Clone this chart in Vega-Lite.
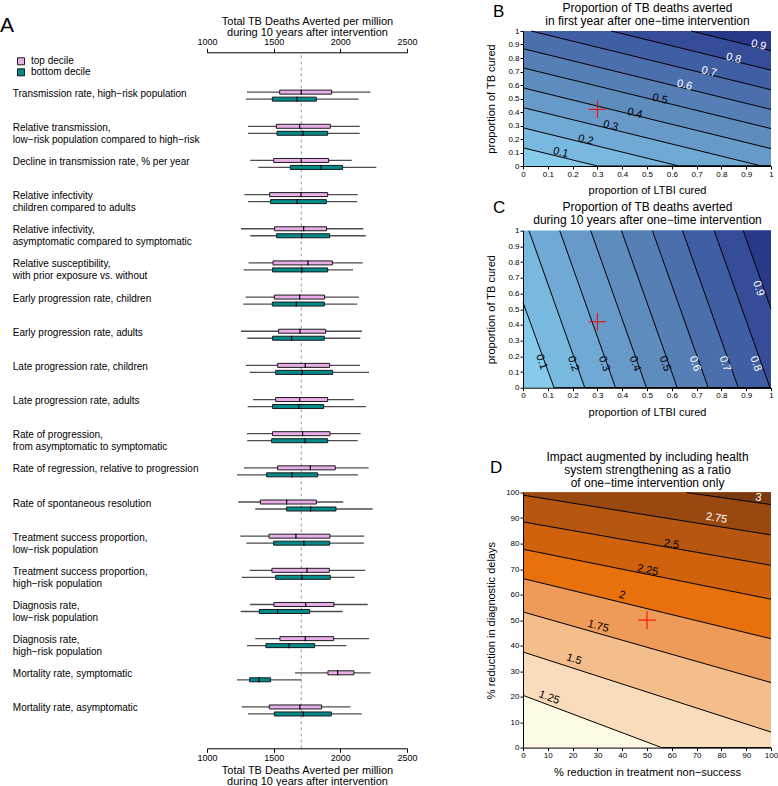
{
  "$schema": "https://vega.github.io/schema/vega-lite/v6.json",
  "padding": {"left": 0, "top": 1, "right": 0, "bottom": 0},
  "config": {
    "font": "Liberation Sans",
    "view": {"stroke": null},
    "axis": {"domainColor": "black", "tickColor": "black", "labelColor": "black", "titleColor": "black", "grid": false, "titleFontWeight": "normal", "labelFlush": false, "labelOverlap": false, "domainWidth": 1, "tickWidth": 1},
    "title": {"fontWeight": "normal", "color": "black", "anchor": "start", "frame": "group", "baseline": "alphabetic"}
  },
  "datasets": {
    "aData": [
      {"p": "Transmission rate, high−risk population", "d": "top decile", "lo": 1300, "q1": 1545, "med": 1707, "q3": 1935, "hi": 2225},
      {"p": "Transmission rate, high−risk population", "d": "bottom decile", "lo": 1292, "q1": 1490, "med": 1675, "q3": 1820, "hi": 2137},
      {"p": "Relative transmission,\nlow−risk population compared to high−risk", "d": "top decile", "lo": 1307, "q1": 1520, "med": 1695, "q3": 1925, "hi": 2145},
      {"p": "Relative transmission,\nlow−risk population compared to high−risk", "d": "bottom decile", "lo": 1307, "q1": 1525, "med": 1720, "q3": 1905, "hi": 2145},
      {"p": "Decline in transmission rate, % per year", "d": "top decile", "lo": 1325, "q1": 1500, "med": 1707, "q3": 1912, "hi": 2085},
      {"p": "Decline in transmission rate, % per year", "d": "bottom decile", "lo": 1385, "q1": 1625, "med": 1855, "q3": 2017, "hi": 2270},
      {"p": "Relative infectivity\nchildren compared to adults", "d": "top decile", "lo": 1280, "q1": 1470, "med": 1705, "q3": 1905, "hi": 2130},
      {"p": "Relative infectivity\nchildren compared to adults", "d": "bottom decile", "lo": 1307, "q1": 1477, "med": 1675, "q3": 1895, "hi": 2127},
      {"p": "Relative infectivity,\nasymptomatic compared to symptomatic", "d": "top decile", "lo": 1255, "q1": 1507, "med": 1725, "q3": 1897, "hi": 2172},
      {"p": "Relative infectivity,\nasymptomatic compared to symptomatic", "d": "bottom decile", "lo": 1325, "q1": 1522, "med": 1710, "q3": 1920, "hi": 2190},
      {"p": "Relative susceptibility,\nwith prior exposure vs. without", "d": "top decile", "lo": 1312, "q1": 1495, "med": 1757, "q3": 1940, "hi": 2167},
      {"p": "Relative susceptibility,\nwith prior exposure vs. without", "d": "bottom decile", "lo": 1275, "q1": 1492, "med": 1712, "q3": 1905, "hi": 2095},
      {"p": "Early progression rate, children", "d": "top decile", "lo": 1290, "q1": 1505, "med": 1695, "q3": 1882, "hi": 2140},
      {"p": "Early progression rate, children", "d": "bottom decile", "lo": 1272, "q1": 1490, "med": 1670, "q3": 1880, "hi": 2127},
      {"p": "Early progression rate, adults", "d": "top decile", "lo": 1255, "q1": 1537, "med": 1697, "q3": 1890, "hi": 2162},
      {"p": "Early progression rate, adults", "d": "bottom decile", "lo": 1302, "q1": 1492, "med": 1635, "q3": 1880, "hi": 2150},
      {"p": "Late progression rate, children", "d": "top decile", "lo": 1290, "q1": 1530, "med": 1737, "q3": 1920, "hi": 2147},
      {"p": "Late progression rate, children", "d": "bottom decile", "lo": 1320, "q1": 1515, "med": 1715, "q3": 1942, "hi": 2215},
      {"p": "Late progression rate, adults", "d": "top decile", "lo": 1345, "q1": 1515, "med": 1695, "q3": 1905, "hi": 2102},
      {"p": "Late progression rate, adults", "d": "bottom decile", "lo": 1305, "q1": 1492, "med": 1690, "q3": 1875, "hi": 2192},
      {"p": "Rate of progression,\nfrom asymptomatic to symptomatic", "d": "top decile", "lo": 1300, "q1": 1492, "med": 1717, "q3": 1922, "hi": 2152},
      {"p": "Rate of progression,\nfrom asymptomatic to symptomatic", "d": "bottom decile", "lo": 1302, "q1": 1485, "med": 1735, "q3": 1905, "hi": 2130},
      {"p": "Rate of regression, relative to progression", "d": "top decile", "lo": 1277, "q1": 1530, "med": 1775, "q3": 1962, "hi": 2212},
      {"p": "Rate of regression, relative to progression", "d": "bottom decile", "lo": 1225, "q1": 1447, "med": 1637, "q3": 1830, "hi": 2132},
      {"p": "Rate of spontaneous resolution", "d": "top decile", "lo": 1235, "q1": 1400, "med": 1597, "q3": 1820, "hi": 2022},
      {"p": "Rate of spontaneous resolution", "d": "bottom decile", "lo": 1362, "q1": 1597, "med": 1777, "q3": 1967, "hi": 2242},
      {"p": "Treatment success proportion,\nlow−risk population", "d": "top decile", "lo": 1250, "q1": 1465, "med": 1667, "q3": 1922, "hi": 2180},
      {"p": "Treatment success proportion,\nlow−risk population", "d": "bottom decile", "lo": 1295, "q1": 1500, "med": 1727, "q3": 1920, "hi": 2177},
      {"p": "Treatment success proportion,\nhigh−risk population", "d": "top decile", "lo": 1320, "q1": 1487, "med": 1750, "q3": 1917, "hi": 2187},
      {"p": "Treatment success proportion,\nhigh−risk population", "d": "bottom decile", "lo": 1260, "q1": 1515, "med": 1712, "q3": 1925, "hi": 2107},
      {"p": "Diagnosis rate,\nlow−risk population", "d": "top decile", "lo": 1322, "q1": 1502, "med": 1740, "q3": 1952, "hi": 2205},
      {"p": "Diagnosis rate,\nlow−risk population", "d": "bottom decile", "lo": 1252, "q1": 1392, "med": 1530, "q3": 1770, "hi": 2017},
      {"p": "Diagnosis rate,\nhigh−risk population", "d": "top decile", "lo": 1362, "q1": 1547, "med": 1737, "q3": 1950, "hi": 2215},
      {"p": "Diagnosis rate,\nhigh−risk population", "d": "bottom decile", "lo": 1300, "q1": 1442, "med": 1615, "q3": 1807, "hi": 2045},
      {"p": "Mortality rate, symptomatic", "d": "top decile", "lo": 1660, "q1": 1907, "med": 1980, "q3": 2102, "hi": 2227},
      {"p": "Mortality rate, symptomatic", "d": "bottom decile", "lo": 1225, "q1": 1320, "med": 1390, "q3": 1477, "hi": 1705},
      {"p": "Mortality rate, asymptomatic", "d": "top decile", "lo": 1260, "q1": 1467, "med": 1697, "q3": 1860, "hi": 2077},
      {"p": "Mortality rate, asymptomatic", "d": "bottom decile", "lo": 1307, "q1": 1505, "med": 1722, "q3": 1932, "hi": 2160}
    ],
    "bLines": [
      {"level": 0.1, "x": 0, "y": 0.135}, {"level": 0.1, "x": 0.3, "y": 0}, {"level": 0.1, "x": 1, "y": 0},
      {"level": 0.2, "x": 0, "y": 0.283}, {"level": 0.2, "x": 0.629, "y": 0}, {"level": 0.2, "x": 1, "y": 0},
      {"level": 0.3, "x": 0, "y": 0.433}, {"level": 0.3, "x": 0.962, "y": 0}, {"level": 0.3, "x": 1, "y": 0},
      {"level": 0.4, "x": 0, "y": 0.579}, {"level": 0.4, "x": 1, "y": 0.129},
      {"level": 0.5, "x": 0, "y": 0.727}, {"level": 0.5, "x": 1, "y": 0.277},
      {"level": 0.6, "x": 0, "y": 0.869}, {"level": 0.6, "x": 1, "y": 0.419},
      {"level": 0.7, "x": 0.033, "y": 1}, {"level": 0.7, "x": 1, "y": 0.565},
      {"level": 0.8, "x": 0.356, "y": 1}, {"level": 0.8, "x": 1, "y": 0.71},
      {"level": 0.9, "x": 0.678, "y": 1}, {"level": 0.9, "x": 1, "y": 0.855}
    ],
    "bLabels": [
      {"level": 0.1, "x": 0.152, "y": 0.099}, {"level": 0.2, "x": 0.253, "y": 0.192}, {"level": 0.3, "x": 0.353, "y": 0.296},
      {"level": 0.4, "x": 0.451, "y": 0.389}, {"level": 0.5, "x": 0.552, "y": 0.495}, {"level": 0.6, "x": 0.651, "y": 0.599},
      {"level": 0.7, "x": 0.75, "y": 0.697}, {"level": 0.8, "x": 0.849, "y": 0.796}, {"level": 0.9, "x": 0.95, "y": 0.894}
    ],
    "cLines": [
      {"level": 0.1, "x": 0, "y": 0.543}, {"level": 0.1, "x": 0.125, "y": 0}, {"level": 0.1, "x": 1, "y": 0},
      {"level": 0.2, "x": 0.024, "y": 1}, {"level": 0.2, "x": 0.249, "y": 0}, {"level": 0.2, "x": 1, "y": 0},
      {"level": 0.3, "x": 0.148, "y": 1}, {"level": 0.3, "x": 0.373, "y": 0}, {"level": 0.3, "x": 1, "y": 0},
      {"level": 0.4, "x": 0.273, "y": 1}, {"level": 0.4, "x": 0.498, "y": 0}, {"level": 0.4, "x": 1, "y": 0},
      {"level": 0.5, "x": 0.397, "y": 1}, {"level": 0.5, "x": 0.622, "y": 0}, {"level": 0.5, "x": 1, "y": 0},
      {"level": 0.6, "x": 0.522, "y": 1}, {"level": 0.6, "x": 0.747, "y": 0}, {"level": 0.6, "x": 1, "y": 0},
      {"level": 0.7, "x": 0.643, "y": 1}, {"level": 0.7, "x": 0.868, "y": 0}, {"level": 0.7, "x": 1, "y": 0},
      {"level": 0.8, "x": 0.771, "y": 1}, {"level": 0.8, "x": 0.996, "y": 0}, {"level": 0.8, "x": 1, "y": 0},
      {"level": 0.9, "x": 0.888, "y": 1}, {"level": 0.9, "x": 1, "y": 0.502}
    ],
    "cLabels": [
      {"level": 0.1, "x": 0.074, "y": 0.164}, {"level": 0.2, "x": 0.202, "y": 0.153}, {"level": 0.3, "x": 0.327, "y": 0.153},
      {"level": 0.4, "x": 0.451, "y": 0.153}, {"level": 0.5, "x": 0.572, "y": 0.153}, {"level": 0.6, "x": 0.693, "y": 0.153},
      {"level": 0.7, "x": 0.814, "y": 0.153}, {"level": 0.8, "x": 0.938, "y": 0.153}, {"level": 0.9, "x": 0.949, "y": 0.632}
    ],
    "dLines": [
      {"level": 1.25, "x": 0, "y": 20.5}, {"level": 1.25, "x": 55.9, "y": 0}, {"level": 1.25, "x": 100, "y": 0},
      {"level": 1.5, "x": 0, "y": 37.5}, {"level": 1.5, "x": 100, "y": 6.1},
      {"level": 1.75, "x": 0, "y": 53.2}, {"level": 1.75, "x": 100, "y": 25.5},
      {"level": 2, "x": 0, "y": 66.3}, {"level": 2, "x": 100, "y": 42.7},
      {"level": 2.25, "x": 0, "y": 77.8}, {"level": 2.25, "x": 100, "y": 58.2},
      {"level": 2.5, "x": 0, "y": 88.5}, {"level": 2.5, "x": 100, "y": 71.5},
      {"level": 2.75, "x": 0, "y": 99}, {"level": 2.75, "x": 100, "y": 83.4},
      {"level": 3, "x": 66, "y": 100}, {"level": 3, "x": 100, "y": 95.3}
    ],
    "dLabels": [
      {"level": 1.25, "x": 10.5, "y": 19.6}, {"level": 1.5, "x": 20.5, "y": 34.6}, {"level": 1.75, "x": 30.3, "y": 47.5},
      {"level": 2, "x": 40, "y": 59.7}, {"level": 2.25, "x": 50.2, "y": 69.5}, {"level": 2.5, "x": 59.9, "y": 79.7},
      {"level": 2.75, "x": 78, "y": 89.9}, {"level": 3, "x": 94.9, "y": 98}
    ]
  },
  "columns": 2,
  "align": "none",
  "spacing": 66,
  "resolve": {"scale": {"color": "independent", "fill": "independent"}, "legend": {"color": "independent", "fill": "independent"}},
  "concat": [
    {
      "width": 200,
      "height": 717.3,
      "title": {"text": "A", "dx": -207, "fontSize": 21, "offset": -20.8},
      "resolve": {"scale": {"y": "independent"}, "axis": {"x": "independent", "y": "independent"}},
      "layer": [
        {
          "data": {"values": [{"ref": 1707}]},
          "mark": {"type": "rule", "color": "#9a9a9a", "strokeDash": [3, 3], "strokeWidth": 1},
          "encoding": {
            "x": {"field": "ref", "type": "quantitative", "scale": {"domain": [1000, 2500], "nice": false, "zero": false}, "axis": null},
            "y": {"datum": 0, "type": "quantitative", "scale": {"domain": [0, 1.0306], "nice": false, "zero": false}, "axis": null},
            "y2": {"datum": 1}
          }
        },
        {
          "data": {"name": "aData"},
          "resolve": {"axis": {"x": "independent"}},
          "layer": [
            {
              "mark": {"type": "rule", "color": "#4d4d4d", "strokeWidth": 1.3},
              "encoding": {
                "x": {"field": "lo", "type": "quantitative", "scale": {"domain": [1000, 2500], "nice": false, "zero": false},
                  "axis": {"orient": "bottom", "values": [1000, 1500, 2000, 2500], "format": "d", "tickSize": 4, "labelFontSize": 9, "labelPadding": 1, "title": ["Total TB Deaths Averted per million", "during 10 years after intervention"], "titleFontSize": 11, "titleLineHeight": 11, "titlePadding": 2, "zindex": 1}},
                "x2": {"field": "hi"},
                "y": {"field": "p", "type": "nominal", "sort": null, "scale": {"type": "band", "paddingInner": 0, "paddingOuter": 1, "align": 0.696},
                  "axis": {"orient": "left", "title": null, "ticks": false, "tickSize": 0, "domain": false, "labelAlign": "left", "labelPadding": 194.7, "labelFontSize": 10, "labelLimit": 0, "labelLineHeight": 12, "labelOffset": -2, "labelExpr": "split(datum.label, '\\n')"}},
                "yOffset": {"field": "d", "type": "nominal", "scale": {"domain": ["", "top decile", "bottom decile", " "], "paddingInner": 0, "paddingOuter": 0.44}}
              }
            },
            {
              "mark": {"type": "bar", "height": 4, "stroke": "#1a1a1a", "strokeWidth": 1},
              "encoding": {
                "x": {"field": "q1", "type": "quantitative", "scale": {"domain": [1000, 2500], "nice": false, "zero": false},
                  "axis": {"orient": "top", "offset": -21.3, "values": [1000, 1500, 2000, 2500], "format": "d", "tickSize": 4, "labelFontSize": 9, "labelPadding": 2, "title": ["Total TB Deaths Averted per million", "during 10 years after intervention"], "titleFontSize": 11, "titleLineHeight": 10.7, "titlePadding": 0, "zindex": 1}},
                "x2": {"field": "q3"},
                "y": {"field": "p", "type": "nominal", "sort": null, "scale": {"type": "band", "paddingInner": 0, "paddingOuter": 1, "align": 0.696}},
                "yOffset": {"field": "d", "type": "nominal", "scale": {"domain": ["", "top decile", "bottom decile", " "], "paddingInner": 0, "paddingOuter": 0.44}},
                "fill": {"field": "d", "type": "nominal", "scale": {"domain": ["top decile", "bottom decile"], "range": ["#e9aee9", "#008b8b"]},
                  "legend": {"orient": "none", "legendX": -191, "legendY": 25.3, "title": null, "symbolType": "square", "symbolSize": 49, "symbolStrokeColor": "#1a1a1a", "symbolStrokeWidth": 1, "labelFontSize": 10, "labelOffset": 5, "rowPadding": -1.5, "padding": 0, "labelColor": "black"}}
              }
            },
            {
              "mark": {"type": "tick", "color": "black", "thickness": 1.2, "size": 5, "opacity": 1},
              "encoding": {
                "x": {"field": "med", "type": "quantitative", "scale": {"domain": [1000, 2500], "nice": false, "zero": false}, "axis": null},
                "y": {"field": "p", "type": "nominal", "sort": null, "scale": {"type": "band", "paddingInner": 0, "paddingOuter": 1, "align": 0.696}},
                "yOffset": {"field": "d", "type": "nominal", "scale": {"domain": ["", "top decile", "bottom decile", " "], "paddingInner": 0, "paddingOuter": 0.44}}
              }
            }
          ]
        }
      ]
    },
    {
      "columns": 1,
      "align": "none",
      "spacing": 31.6,
      "resolve": {"scale": {"color": "independent", "fill": "independent"}, "legend": {"color": "independent", "fill": "independent"}},
      "concat": [
        {
          "columns": 1,
          "align": "each",
          "spacing": 2.7,
          "concat": [
            {
              "width": 248,
              "height": 135,
              "view": {"fill": "#86cbea", "stroke": null},
              "title": {"text": "B", "dx": -30, "fontSize": 17, "baseline": "top", "offset": -19.8},
              "resolve": {"axis": {"x": "independent"}},
              "layer": [
                {
                  "data": {"name": "bLines"},
                  "mark": {"type": "area"},
                  "encoding": {
                    "x": {"field": "x", "type": "quantitative", "scale": {"domain": [0, 1], "nice": false, "zero": false}, "axis": null},
                    "y": {"field": "y", "type": "quantitative", "stack": null, "scale": {"domain": [0, 1], "nice": false, "zero": false},
                      "axis": {"orient": "left", "values": [0, 0.1, 0.2, 0.3, 0.4, 0.5, 0.6, 0.7, 0.8, 0.9, 1], "format": "~g", "tickSize": 3, "labelPadding": 1, "labelFontSize": 8, "labelOverlap": false, "title": "proportion of TB cured", "titleFontSize": 11, "titleX": -27, "zindex": 1}},
                    "y2": {"datum": 1},
                    "color": {"field": "level", "type": "ordinal", "scale": {"domain": [0.1, 0.2, 0.3, 0.4, 0.5, 0.6, 0.7, 0.8, 0.9], "range": ["#79b9df", "#70a9d4", "#679ac8", "#5e8cbd", "#567fb5", "#4b6ead", "#405ea3", "#354c98", "#29398a"]}, "legend": null}
                  }
                },
                {
                  "data": {"name": "bLines"},
                  "mark": {"type": "line", "color": "black", "strokeWidth": 1},
                  "encoding": {
                    "x": {"field": "x", "type": "quantitative", "scale": {"domain": [0, 1], "nice": false, "zero": false},
                      "axis": {"orient": "bottom", "values": [0, 0.1, 0.2, 0.3, 0.4, 0.5, 0.6, 0.7, 0.8, 0.9, 1], "format": "~g", "tickSize": 3, "labelPadding": 1, "labelFontSize": 8, "labelOverlap": false, "title": "proportion of LTBI cured", "titleFontSize": 11, "titlePadding": 6.5, "zindex": 1}},
                    "y": {"field": "y", "type": "quantitative", "scale": {"domain": [0, 1], "nice": false, "zero": false},
                      "axis": {"orient": "left", "values": [0, 0.1, 0.2, 0.3, 0.4, 0.5, 0.6, 0.7, 0.8, 0.9, 1], "format": "~g", "tickSize": 3, "labelPadding": 1, "labelFontSize": 8, "labelOverlap": false, "title": "proportion of TB cured", "titleFontSize": 11, "titleX": -27, "zindex": 1}},
                    "detail": {"field": "level", "type": "nominal"}
                  }
                },
                {
                  "data": {"name": "bLabels"},
                  "mark": {"type": "text", "angle": 14, "fontSize": 11},
                  "encoding": {
                    "x": {"field": "x", "type": "quantitative", "scale": {"domain": [0, 1], "nice": false, "zero": false}, "axis": null},
                    "y": {"field": "y", "type": "quantitative", "scale": {"domain": [0, 1], "nice": false, "zero": false},
                      "axis": {"orient": "left", "values": [0, 0.1, 0.2, 0.3, 0.4, 0.5, 0.6, 0.7, 0.8, 0.9, 1], "format": "~g", "tickSize": 3, "labelPadding": 1, "labelFontSize": 8, "labelOverlap": false, "title": "proportion of TB cured", "titleFontSize": 11, "titleX": -27, "zindex": 1}},
                    "text": {"field": "level", "type": "nominal"},
                    "color": {"condition": {"test": "datum.level >= 0.6", "value": "white"}, "value": "black"}
                  }
                },
                {
                  "data": {"values": [{"x": 0.3, "y": 0.42}]},
                  "mark": {"type": "point", "shape": "M-1,0H1M0,-1V1", "size": 300, "stroke": "#ff0000", "strokeWidth": 1, "filled": false, "opacity": 1},
                  "encoding": {
                    "x": {"field": "x", "type": "quantitative", "scale": {"domain": [0, 1], "nice": false, "zero": false},
                      "axis": {"orient": "top", "labels": false, "ticks": false, "domain": false, "title": ["Proportion of TB deaths averted", "in first year after one−time intervention"], "titleFontSize": 12, "titleLineHeight": 13, "titlePadding": 4}},
                    "y": {"field": "y", "type": "quantitative", "scale": {"domain": [0, 1], "nice": false, "zero": false},
                      "axis": {"orient": "left", "values": [0, 0.1, 0.2, 0.3, 0.4, 0.5, 0.6, 0.7, 0.8, 0.9, 1], "format": "~g", "tickSize": 3, "labelPadding": 1, "labelFontSize": 8, "labelOverlap": false, "title": "proportion of TB cured", "titleFontSize": 11, "titleX": -27, "zindex": 1}}
                  }
                }
              ]
            },
            {
              "width": 248,
              "height": 157,
              "view": {"fill": "#86cbea", "stroke": null},
              "title": {"text": "C", "dx": -30, "fontSize": 17, "baseline": "top", "offset": -16.5},
              "resolve": {"axis": {"x": "independent"}},
              "layer": [
                {
                  "data": {"name": "cLines"},
                  "mark": {"type": "area"},
                  "encoding": {
                    "x": {"field": "x", "type": "quantitative", "scale": {"domain": [0, 1], "nice": false, "zero": false}, "axis": null},
                    "y": {"field": "y", "type": "quantitative", "stack": null, "scale": {"domain": [0, 1], "nice": false, "zero": false},
                      "axis": {"orient": "left", "values": [0, 0.1, 0.2, 0.3, 0.4, 0.5, 0.6, 0.7, 0.8, 0.9, 1], "format": "~g", "tickSize": 3, "labelPadding": 1, "labelFontSize": 8, "labelOverlap": false, "title": "proportion of TB cured", "titleFontSize": 11, "titleX": -27, "zindex": 1}},
                    "y2": {"datum": 1},
                    "color": {"field": "level", "type": "ordinal", "scale": {"domain": [0.1, 0.2, 0.3, 0.4, 0.5, 0.6, 0.7, 0.8, 0.9], "range": ["#79b9df", "#70a9d4", "#679ac8", "#5e8cbd", "#567fb5", "#4b6ead", "#405ea3", "#354c98", "#29398a"]}, "legend": null}
                  }
                },
                {
                  "data": {"name": "cLines"},
                  "mark": {"type": "line", "color": "black", "strokeWidth": 1},
                  "encoding": {
                    "x": {"field": "x", "type": "quantitative", "scale": {"domain": [0, 1], "nice": false, "zero": false},
                      "axis": {"orient": "bottom", "values": [0, 0.1, 0.2, 0.3, 0.4, 0.5, 0.6, 0.7, 0.8, 0.9, 1], "format": "~g", "tickSize": 3, "labelPadding": 1, "labelFontSize": 8, "labelOverlap": false, "title": "proportion of LTBI cured", "titleFontSize": 11, "titlePadding": 6.5, "zindex": 1}},
                    "y": {"field": "y", "type": "quantitative", "scale": {"domain": [0, 1], "nice": false, "zero": false},
                      "axis": {"orient": "left", "values": [0, 0.1, 0.2, 0.3, 0.4, 0.5, 0.6, 0.7, 0.8, 0.9, 1], "format": "~g", "tickSize": 3, "labelPadding": 1, "labelFontSize": 8, "labelOverlap": false, "title": "proportion of TB cured", "titleFontSize": 11, "titleX": -27, "zindex": 1}},
                    "detail": {"field": "level", "type": "nominal"}
                  }
                },
                {
                  "data": {"name": "cLabels"},
                  "mark": {"type": "text", "angle": 70, "fontSize": 11},
                  "encoding": {
                    "x": {"field": "x", "type": "quantitative", "scale": {"domain": [0, 1], "nice": false, "zero": false}, "axis": null},
                    "y": {"field": "y", "type": "quantitative", "scale": {"domain": [0, 1], "nice": false, "zero": false},
                      "axis": {"orient": "left", "values": [0, 0.1, 0.2, 0.3, 0.4, 0.5, 0.6, 0.7, 0.8, 0.9, 1], "format": "~g", "tickSize": 3, "labelPadding": 1, "labelFontSize": 8, "labelOverlap": false, "title": "proportion of TB cured", "titleFontSize": 11, "titleX": -27, "zindex": 1}},
                    "text": {"field": "level", "type": "nominal"},
                    "color": {"condition": {"test": "datum.level >= 0.6", "value": "white"}, "value": "black"}
                  }
                },
                {
                  "data": {"values": [{"x": 0.3, "y": 0.42}]},
                  "mark": {"type": "point", "shape": "M-1,0H1M0,-1V1", "size": 300, "stroke": "#ff0000", "strokeWidth": 1, "filled": false, "opacity": 1},
                  "encoding": {
                    "x": {"field": "x", "type": "quantitative", "scale": {"domain": [0, 1], "nice": false, "zero": false},
                      "axis": {"orient": "top", "labels": false, "ticks": false, "domain": false, "title": ["Proportion of TB deaths averted", "during 10 years after one−time intervention"], "titleFontSize": 12, "titleLineHeight": 13, "titlePadding": 4}},
                    "y": {"field": "y", "type": "quantitative", "scale": {"domain": [0, 1], "nice": false, "zero": false},
                      "axis": {"orient": "left", "values": [0, 0.1, 0.2, 0.3, 0.4, 0.5, 0.6, 0.7, 0.8, 0.9, 1], "format": "~g", "tickSize": 3, "labelPadding": 1, "labelFontSize": 8, "labelOverlap": false, "title": "proportion of TB cured", "titleFontSize": 11, "titleX": -27, "zindex": 1}}
                  }
                }
              ]
            }
          ]
        },
        {
          "width": 248,
          "height": 255,
          "view": {"fill": "#fdfbe4", "stroke": null},
          "title": {"text": "D", "dx": -33, "fontSize": 17, "offset": -27.3},
          "resolve": {"axis": {"x": "independent"}},
          "layer": [
            {
              "data": {"name": "dLines"},
              "mark": {"type": "area"},
              "encoding": {
                "x": {"field": "x", "type": "quantitative", "scale": {"domain": [0, 100], "nice": false, "zero": false}, "axis": null},
                "y": {"field": "y", "type": "quantitative", "stack": null, "scale": {"domain": [0, 100], "nice": false, "zero": false},
                  "axis": {"orient": "left", "values": [0, 10, 20, 30, 40, 50, 60, 70, 80, 90, 100], "format": "d", "tickSize": 3, "labelPadding": 1, "labelFontSize": 8, "labelOverlap": false, "title": "% reduction in diagnostic delays", "titleFontSize": 11, "titleX": -27, "zindex": 1}},
                "y2": {"datum": 100},
                "color": {"field": "level", "type": "ordinal", "scale": {"domain": [1.25, 1.5, 1.75, 2, 2.25, 2.5, 2.75, 3], "range": ["#f9dcbc", "#f3bd8c", "#ee9a58", "#e8710e", "#d0620d", "#b7560f", "#99480f", "#7a3a12"]}, "legend": null}
              }
            },
            {
              "data": {"name": "dLines"},
              "mark": {"type": "line", "color": "black", "strokeWidth": 1},
              "encoding": {
                "x": {"field": "x", "type": "quantitative", "scale": {"domain": [0, 100], "nice": false, "zero": false},
                  "axis": {"orient": "bottom", "values": [0, 10, 20, 30, 40, 50, 60, 70, 80, 90, 100], "format": "d", "tickSize": 3, "labelPadding": 1, "labelFontSize": 8, "labelOverlap": false, "title": "% reduction in treatment non−success", "titleFontSize": 11, "titlePadding": 6.5, "zindex": 1}},
                "y": {"field": "y", "type": "quantitative", "scale": {"domain": [0, 100], "nice": false, "zero": false},
                  "axis": {"orient": "left", "values": [0, 10, 20, 30, 40, 50, 60, 70, 80, 90, 100], "format": "d", "tickSize": 3, "labelPadding": 1, "labelFontSize": 8, "labelOverlap": false, "title": "% reduction in diagnostic delays", "titleFontSize": 11, "titleX": -27, "zindex": 1}},
                "detail": {"field": "level", "type": "nominal"}
              }
            },
            {
              "data": {"name": "dLabels"},
              "mark": {"type": "text", "fontSize": 11},
              "encoding": {
                "x": {"field": "x", "type": "quantitative", "scale": {"domain": [0, 100], "nice": false, "zero": false}, "axis": null},
                "y": {"field": "y", "type": "quantitative", "scale": {"domain": [0, 100], "nice": false, "zero": false},
                  "axis": {"orient": "left", "values": [0, 10, 20, 30, 40, 50, 60, 70, 80, 90, 100], "format": "d", "tickSize": 3, "labelPadding": 1, "labelFontSize": 8, "labelOverlap": false, "title": "% reduction in diagnostic delays", "titleFontSize": 11, "titleX": -27, "zindex": 1}},
                "text": {"field": "level", "type": "nominal"},
                "angle": {"field": "level", "type": "quantitative", "scale": {"type": "linear", "domain": [1.25, 1.5, 1.75, 2, 2.25, 2.5, 2.75, 3], "range": [20.7, 17.9, 15.9, 13.6, 11.4, 9.9, 9.1, 8]}, "legend": null},
                "color": {"condition": {"test": "datum.level >= 2.75", "value": "white"}, "value": "black"}
              }
            },
            {
              "data": {"values": [{"x": 50, "y": 50}]},
              "mark": {"type": "point", "shape": "M-1,0H1M0,-1V1", "size": 324, "stroke": "#ff0000", "strokeWidth": 1, "filled": false, "opacity": 1},
              "encoding": {
                "x": {"field": "x", "type": "quantitative", "scale": {"domain": [0, 100], "nice": false, "zero": false},
                  "axis": {"orient": "top", "labels": false, "ticks": false, "domain": false, "title": ["Impact augmented by including health", "system strengthening as a ratio", "of one−time intervention only"], "titleFontSize": 12, "titleLineHeight": 13.3, "titlePadding": 3}},
                "y": {"field": "y", "type": "quantitative", "scale": {"domain": [0, 100], "nice": false, "zero": false},
                  "axis": {"orient": "left", "values": [0, 10, 20, 30, 40, 50, 60, 70, 80, 90, 100], "format": "d", "tickSize": 3, "labelPadding": 1, "labelFontSize": 8, "labelOverlap": false, "title": "% reduction in diagnostic delays", "titleFontSize": 11, "titleX": -27, "zindex": 1}}
              }
            }
          ]
        }
      ]
    }
  ]
}
